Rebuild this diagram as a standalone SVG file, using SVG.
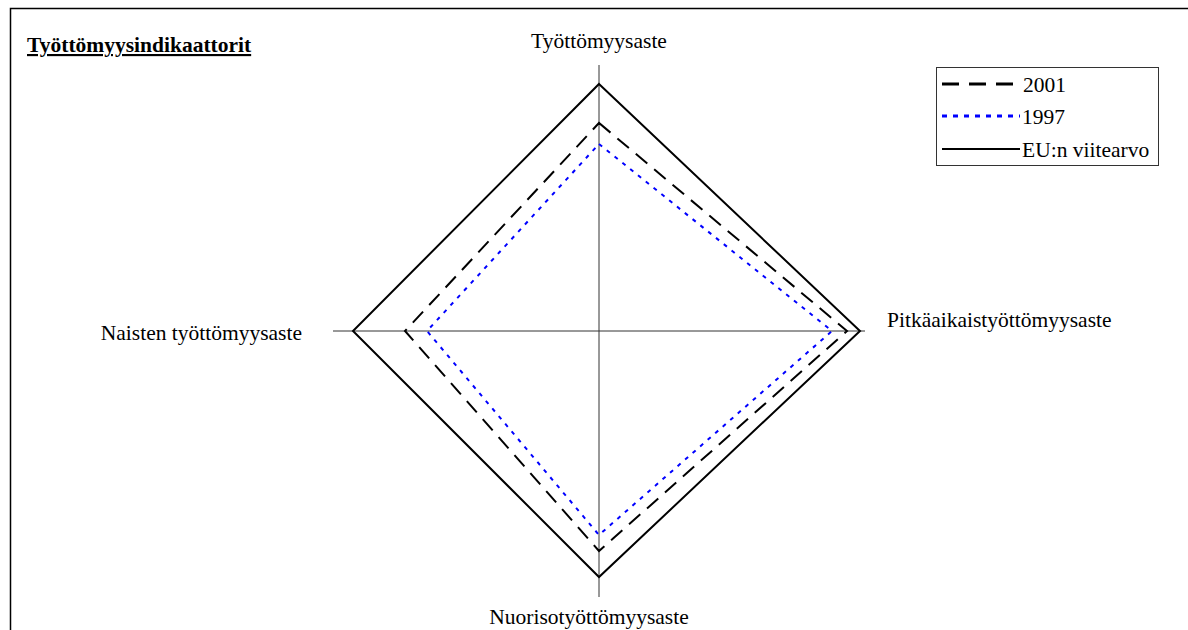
<svg xmlns="http://www.w3.org/2000/svg" width="1188" height="630" viewBox="0 0 1188 630">
<style>
.t{font-family:'Liberation Serif','DejaVu Serif',serif;font-size:21.5px;fill:#000}
.axis{stroke:#333;stroke-width:1;fill:none}
.eu{stroke:#000;stroke-width:2;fill:none}
.y2001{stroke:#000;stroke-width:2;fill:none;stroke-dasharray:15 9}
.y1997{stroke:#0000ff;stroke-width:2;fill:none;stroke-dasharray:4 6}
</style>
<rect width="1188" height="630" fill="#fff"/>
<g id="frame">
<path d="M10.5 630 V8.5 H1188" stroke="#000" stroke-width="1.5" fill="none"/>
</g>
<g id="title">
<text class="t" x="27" y="52" font-weight="bold" text-decoration="underline">Työttömyysindikaattorit</text>
</g>
<g id="connectors">
<line class="axis" x1="599" y1="65" x2="599" y2="597"/>
<line class="axis" x1="333" y1="331" x2="865" y2="331"/>
<polygon class="eu" points="599,84 860,331 599,577 353,331"/>
<polygon class="y2001" points="599,123 847,331 599,551 405,331"/>
<polygon class="y1997" points="599,144 832,331 599,535 427,331"/>
</g>
<g id="label-top"><text class="t" x="599" y="48" text-anchor="middle">Työttömyysaste</text></g>
<g id="label-right"><text class="t" x="887" y="327">Pitkäaikaistyöttömyysaste</text></g>
<g id="label-bottom"><text class="t" x="589" y="624" text-anchor="middle">Nuorisotyöttömyysaste</text></g>
<g id="label-left"><text class="t" x="302" y="340" text-anchor="end">Naisten työttömyysaste</text></g>
<g id="legend">
<rect x="936.5" y="67.5" width="222" height="98" fill="#fff" stroke="#333" stroke-width="1"/>
<line x1="942" y1="84" x2="1014" y2="84" stroke="#000" stroke-width="3" stroke-dasharray="17 10"/>
<line x1="942" y1="116" x2="1020" y2="116" stroke="#0000ff" stroke-width="3" stroke-dasharray="5 6"/>
<line x1="942" y1="149" x2="1020" y2="149" stroke="#000" stroke-width="2"/>
<text class="t" x="1023" y="92">2001</text>
<text class="t" x="1022" y="124">1997</text>
<text class="t" x="1022" y="157">EU:n viitearvo</text>
</g>
</svg>
